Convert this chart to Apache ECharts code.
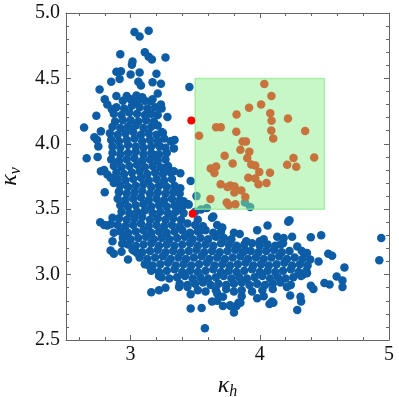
<!DOCTYPE html>
<html>
<head>
<meta charset="utf-8">
<script src="https://cdn.jsdelivr.net/npm/echarts@6/dist/echarts.min.js"></script>
<style>
html, body { margin: 0; padding: 0; background: #fff; }
#chart { width: 399px; height: 397px; }
</style>
</head>
<body>
<div id="chart"></div>
<script>
// axis ticks
var xMajorTicks = [3, 4, 5];
var xMinorTicks = [2.6, 2.8, 3.0, 3.2, 3.4, 3.6, 3.8, 4.0, 4.2, 4.4, 4.6, 4.8, 5.0];
var yTickLabels = ['2.5', '3.0', '3.5', '4.0', '4.5', '5.0'];

// selection box (kappa_h range, kappa_v range)
var boxKh = [3.5, 4.5];
var boxKv = [3.5, 4.5];

// all samples - dense core, read row by row
var blueCore = [
    [2.94,4.33],[3.00,4.34],[3.05,4.32],[3.11,4.33],[3.17,4.34],
    [2.89,4.28],[2.95,4.27],[3.01,4.29],[3.07,4.28],[3.13,4.27],[3.19,4.28],[3.24,4.27],
    [2.87,4.23],[2.93,4.22],[2.99,4.24],[3.05,4.23],[3.11,4.22],[3.16,4.23],[3.21,4.22],
    [2.88,4.17],[2.94,4.18],[3.00,4.18],[3.06,4.17],[3.12,4.18],[3.18,4.17],
    [2.86,4.13],[2.92,4.12],[2.98,4.13],[3.04,4.14],[3.10,4.12],[3.16,4.13],[3.21,4.14],
    [2.84,4.08],[2.90,4.07],[2.96,4.08],[3.02,4.09],[3.08,4.07],[3.14,4.08],[3.20,4.07],[3.24,4.09],
    [2.85,4.03],[2.91,4.02],[2.97,4.03],[3.03,4.04],[3.09,4.02],[3.15,4.03],[3.21,4.02],[3.26,4.04],
    [2.86,3.98],[2.92,3.97],[2.98,3.99],[3.04,3.98],[3.10,3.97],[3.16,3.98],[3.22,3.99],[3.27,3.97],
    [2.86,3.93],[2.92,3.92],[2.98,3.93],[3.04,3.94],[3.10,3.92],[3.16,3.93],[3.22,3.92],[3.28,3.93],
    [2.85,3.88],[2.91,3.87],[2.97,3.88],[3.03,3.89],[3.09,3.87],[3.15,3.88],[3.21,3.87],[3.27,3.88],
    [2.87,3.83],[2.93,3.82],[2.99,3.83],[3.05,3.84],[3.11,3.82],[3.17,3.83],[3.23,3.82],[3.29,3.83],
    [2.89,3.78],[2.95,3.77],[3.01,3.78],[3.07,3.79],[3.13,3.77],[3.19,3.78],[3.25,3.77],[3.31,3.78],
    [2.90,3.73],[2.96,3.72],[3.02,3.73],[3.08,3.74],[3.14,3.72],[3.20,3.73],[3.26,3.72],[3.32,3.73],
    [2.92,3.68],[2.98,3.67],[3.04,3.68],[3.10,3.69],[3.16,3.67],[3.22,3.68],[3.28,3.67],[3.34,3.68],
    [2.91,3.63],[2.97,3.62],[3.03,3.63],[3.09,3.64],[3.15,3.62],[3.21,3.63],[3.27,3.62],[3.33,3.63],[3.38,3.62],
    [2.90,3.58],[2.96,3.57],[3.02,3.58],[3.08,3.59],[3.14,3.57],[3.20,3.58],[3.26,3.57],[3.32,3.58],[3.38,3.57],
    [2.92,3.53],[2.98,3.52],[3.04,3.53],[3.10,3.54],[3.16,3.52],[3.22,3.53],[3.28,3.52],[3.34,3.53],[3.40,3.52],[3.44,3.54],
    [2.93,3.48],[2.99,3.47],[3.05,3.48],[3.11,3.49],[3.17,3.47],[3.23,3.48],[3.29,3.47],[3.35,3.48],[3.41,3.47],
    [2.91,3.43],[2.97,3.42],[3.03,3.43],[3.09,3.44],[3.15,3.42],[3.21,3.43],[3.27,3.42],[3.33,3.43],[3.39,3.42],[3.52,3.42],
    [2.90,3.38],[2.96,3.37],[3.02,3.38],[3.08,3.39],[3.14,3.37],[3.20,3.38],[3.26,3.37],[3.32,3.38],[3.38,3.37],[3.44,3.39],[3.50,3.38],[3.56,3.37],
    [2.92,3.33],[2.98,3.32],[3.04,3.33],[3.10,3.34],[3.16,3.32],[3.22,3.33],[3.28,3.32],[3.34,3.33],[3.40,3.34],[3.46,3.32],[3.52,3.33],[3.58,3.34],[3.64,3.32],[3.70,3.33],
    [2.94,3.28],[3.00,3.27],[3.06,3.28],[3.12,3.29],[3.18,3.27],[3.24,3.28],[3.30,3.27],[3.36,3.28],[3.42,3.29],[3.48,3.27],[3.54,3.28],[3.60,3.27],[3.66,3.29],[3.72,3.28],[3.78,3.27],
    [2.98,3.23],[3.04,3.22],[3.10,3.23],[3.16,3.24],[3.22,3.22],[3.28,3.23],[3.34,3.22],[3.40,3.23],[3.46,3.24],[3.52,3.22],[3.58,3.23],[3.64,3.22],[3.70,3.24],[3.76,3.23],[3.82,3.22],[3.88,3.23],[3.94,3.24],[4.00,3.22],[4.06,3.23],[4.12,3.22],[4.18,3.24],
    [3.03,3.18],[3.09,3.17],[3.15,3.18],[3.21,3.19],[3.27,3.17],[3.33,3.18],[3.39,3.17],[3.45,3.18],[3.51,3.19],[3.57,3.17],[3.63,3.18],[3.69,3.17],[3.75,3.18],[3.81,3.19],[3.87,3.17],[3.93,3.18],[3.99,3.17],[4.05,3.18],[4.11,3.19],[4.17,3.17],[4.23,3.18],
    [3.07,3.13],[3.13,3.12],[3.19,3.13],[3.25,3.14],[3.31,3.12],[3.37,3.13],[3.43,3.12],[3.49,3.13],[3.55,3.14],[3.61,3.12],[3.67,3.13],[3.73,3.12],[3.79,3.13],[3.85,3.14],[3.91,3.12],[3.97,3.13],[4.03,3.12],[4.09,3.13],[4.15,3.14],[4.21,3.12],[4.27,3.13],[4.33,3.12],
    [3.11,3.08],[3.17,3.07],[3.23,3.08],[3.29,3.09],[3.35,3.07],[3.41,3.08],[3.47,3.07],[3.53,3.08],[3.59,3.09],[3.65,3.07],[3.71,3.08],[3.77,3.07],[3.83,3.08],[3.89,3.09],[3.95,3.07],[4.01,3.08],[4.07,3.07],[4.13,3.08],[4.19,3.09],[4.25,3.07],[4.31,3.08],[4.37,3.07],
    [3.16,3.03],[3.22,3.02],[3.28,3.03],[3.34,3.04],[3.40,3.02],[3.46,3.03],[3.52,3.02],[3.58,3.03],[3.64,3.04],[3.70,3.02],[3.76,3.03],[3.82,3.02],[3.88,3.03],[3.94,3.04],[4.00,3.02],[4.06,3.03],[4.12,3.02],[4.18,3.03],[4.24,3.04],[4.30,3.02],[4.36,3.03],
    [3.24,2.98],[3.30,2.97],[3.36,2.98],[3.42,2.99],[3.48,2.97],[3.54,2.98],[3.60,2.97],[3.66,2.98],[3.72,2.99],[3.78,2.97],[3.84,2.98],[3.90,2.97],[3.96,2.98],[4.02,2.99],[4.08,2.97],[4.14,2.98],[4.20,2.97],[4.26,2.98],[4.32,2.99],
    [3.38,2.93],[3.44,2.92],[3.50,2.93],[3.56,2.94],[3.62,2.92],[3.68,2.93],[3.74,2.92],[3.80,2.93],[3.86,2.94],[3.92,2.92],[3.98,2.93],[4.04,2.92],[4.10,2.93],[4.16,2.94],[4.24,2.92],
    [3.52,2.88],[3.58,2.87],[3.66,2.88],[3.74,2.89],[3.80,2.87],[3.86,2.88],[3.94,2.87],[4.02,2.88],[4.10,2.89]
];

// all samples - sparse edges
var blueTop = [
    [3.03,4.855],[3.07,4.82],[3.14,4.865],[2.92,4.685],[3.11,4.70],[3.14,4.665],[3.165,4.645],[3.27,4.66],
    [3.015,4.63],[3.01,4.605],[2.89,4.55],[2.925,4.555],[3.07,4.545],[3.0,4.53],[3.2,4.535],[2.85,4.475],
    [2.915,4.495],[3.06,4.475],[3.08,4.445],[3.17,4.47],[3.235,4.46],[2.76,4.415],[3.455,4.435],[3.21,4.385],
    [2.89,4.365],[2.97,4.365],[2.80,4.34],[3.045,4.37],[3.09,4.355],[3.155,4.325],[3.235,4.30],[2.82,4.30],
    [2.855,4.265],[2.735,4.215],[3.285,4.205],[2.64,4.125]
];
var blueLeft = [
    [2.66,3.89],[2.745,3.90],[2.75,3.98],[2.72,4.05],[2.74,4.03],[2.77,4.095],[2.77,3.79],[2.80,3.63],
    [2.795,3.80],[2.82,3.765],[2.845,3.74],[2.87,3.70],[2.91,3.635],[2.765,3.40],[2.795,3.38],[2.86,3.435],
    [2.845,3.385],[2.82,3.375],[2.87,3.32],[2.86,3.255],[2.845,3.185],[2.87,3.16],[2.935,3.235],[2.93,3.175],
    [2.98,3.115],[3.015,3.19],[3.05,3.165]
];
var blueMid = [
    [3.25,4.085],[3.315,4.02],[3.335,3.965],[3.335,3.79],[3.385,3.775],[3.385,3.66],[3.31,4.02],[3.34,4.03],
    [3.225,3.98],[3.2,3.915],[3.26,3.815],[3.31,3.79],[3.465,3.715],[3.41,3.56],[3.385,3.51],[3.45,3.535],
    [3.50,3.48],[3.51,3.60],[3.59,3.51],[3.545,3.497],[3.885,3.552],[3.925,3.517],[3.64,3.445],[4.23,3.415]
];
var blueLow = [
    [3.14,3.07],[3.165,3.04],[3.22,2.99],[3.16,2.865],[3.22,2.88],[3.27,2.90],[3.375,2.905],[3.44,2.905],
    [3.465,2.85],[3.465,2.74],[3.55,2.745],[3.575,2.59],[3.63,2.795],[3.67,2.80],[3.67,2.855],[3.715,2.83],
    [3.715,2.76],[3.77,2.765],[3.80,2.71],[3.835,2.785],[3.86,2.835],[3.63,3.435],[3.67,3.38],[3.71,3.36],
    [3.80,3.32],[3.845,3.31],[3.895,3.255],[3.54,3.34],[3.72,3.28],[3.825,3.205],[3.89,3.185]
];
var blueRight = [
    [4.22,3.405],[4.06,3.375],[3.98,3.34],[4.395,3.285],[4.475,3.30],[4.94,3.28],[4.925,3.11],[4.655,3.055],
    [4.64,2.955],[4.64,2.905],[4.53,3.16],[4.56,3.145],[4.595,2.985],[4.50,2.935],[4.54,2.925],[4.39,3.115],
    [4.455,3.10],[4.29,2.73],[4.315,2.83],[4.32,2.795],[4.235,2.84],[4.105,2.785],[4.075,2.775],[3.98,2.82],
    [4.03,2.835],[3.85,2.785],[3.82,2.76],[3.775,2.76],[4.395,2.915],[4.415,2.89],[4.21,2.905],[4.335,3.0],
    [4.365,3.01],[4.095,2.795],[4.0,3.255],[4.03,3.27],[4.135,3.29],[4.185,3.28],[4.25,3.29],[4.29,3.215],
    [4.16,3.23],[4.325,3.18],[4.365,3.165]
];

// samples inside the box
var selected = [
    [4.035,4.458],[4.09,4.366],[4.01,4.30],[3.917,4.275],[3.82,4.224],[4.081,4.234],[4.091,4.176],[4.218,4.193],
    [3.662,4.127],[3.698,4.127],[3.818,4.092],[4.089,4.102],[3.53,4.061],[4.104,4.04],[4.351,4.097],[3.867,4.018],
    [3.893,4.018],[3.85,3.954],[3.919,3.939],[3.903,3.891],[3.728,3.908],[3.79,3.85],[3.934,3.842],[3.965,3.834],
    [4.261,3.891],[4.421,3.896],[4.212,3.84],[4.282,3.824],[3.62,3.811],[3.662,3.827],[3.649,3.776],[3.996,3.784],
    [4.079,3.779],[3.911,3.74],[3.965,3.735],[3.99,3.69],[4.052,3.70],[3.697,3.69],[3.75,3.669],[3.772,3.682],
    [3.805,3.674],[3.803,3.628],[3.857,3.643],[3.888,3.593],[3.618,3.578],[3.744,3.552],[3.759,3.532],[3.811,3.537]
];

// two marked samples
var marked = [[3.47, 4.178], [3.48, 3.466]];

var axisColor = '#666';
var serif = 'Liberation Serif';

function xAxisDef(pos, ticks, len, showLine, showLabel) {
    return {
        type: 'value', position: pos, min: 2.5, max: 5,
        splitLine: { show: false },
        axisLine: { show: showLine, onZero: false, lineStyle: { color: axisColor, width: 1 } },
        axisTick: { inside: true, length: len, customValues: ticks, lineStyle: { color: axisColor } },
        axisLabel: {
            show: showLabel, customValues: xMajorTicks, margin: 5,
            fontFamily: serif, fontSize: 20, color: '#111',
            formatter: function (v) { return String(v); }
        }
    };
}

function yAxisDef(pos, showLabel) {
    return {
        type: 'value', position: pos, min: 2.5, max: 5, interval: 0.5,
        splitLine: { show: false },
        axisLine: { show: true, onZero: false, lineStyle: { color: axisColor, width: 1 } },
        axisTick: { inside: true, length: 5, lineStyle: { color: axisColor } },
        minorTick: { show: true, splitNumber: 5, length: 3, lineStyle: { color: axisColor } },
        axisLabel: {
            show: showLabel, margin: 6, fontFamily: serif, fontSize: 20, color: '#111',
            formatter: function (v) { return yTickLabels[Math.round((v - 2.5) / 0.5)]; }
        }
    };
}

var xMain = xAxisDef('bottom', xMinorTicks, 3, true, true);
xMain.name = '{k|κ}{s|h}';
xMain.nameLocation = 'middle';
xMain.nameGap = 32;
xMain.nameTextStyle = {
    rich: {
        k: { fontFamily: serif, fontStyle: 'italic', fontSize: 24, color: '#111' },
        s: { fontFamily: serif, fontStyle: 'italic', fontSize: 16, color: '#111', padding: [12, 0, 0, 0] }
    }
};

var yMain = yAxisDef('left', true);
yMain.name = '{k|κ}{s|v}';
yMain.nameLocation = 'middle';
yMain.nameGap = 40;
yMain.nameTextStyle = {
    rich: {
        k: { fontFamily: serif, fontStyle: 'italic', fontSize: 24, color: '#111' },
        s: { fontFamily: serif, fontStyle: 'italic', fontSize: 16, color: '#111', padding: [12, 0, 0, 0] }
    }
};

var chart = echarts.init(document.getElementById('chart'));
chart.setOption({
    animation: false,
    backgroundColor: '#fff',
    grid: { left: 66, right: 10, top: 13, bottom: 57, containLabel: false, outerBoundsMode: 'none' },
    xAxis: [
        xMain,
        xAxisDef('bottom', xMajorTicks, 5, false, false),
        xAxisDef('top', xMinorTicks, 3, true, false),
        xAxisDef('top', xMajorTicks, 5, false, false)
    ],
    yAxis: [yMain, yAxisDef('right', false)],
    series: [
        {
            type: 'scatter', z: 2, silent: true,
            symbolSize: 8.5,
            itemStyle: { color: '#0C5DA5', opacity: 1 },
            data: blueCore.concat(blueTop, blueLeft, blueMid, blueLow, blueRight)
        },
        {
            type: 'custom', z: 3, silent: true,
            encode: { x: [0, 2], y: [1, 3] },
            renderItem: function (params, api) {
                var p0 = api.coord([api.value(0), api.value(3)]);
                var p1 = api.coord([api.value(2), api.value(1)]);
                return {
                    type: 'rect',
                    shape: { x: p0[0], y: p0[1], width: p1[0] - p0[0], height: p1[1] - p0[1] },
                    style: { fill: 'rgba(144,238,144,0.5)', stroke: 'rgba(144,238,144,0.75)', lineWidth: 1.5 }
                };
            },
            data: [[boxKh[0], boxKv[0], boxKh[1], boxKv[1]]]
        },
        {
            type: 'scatter', z: 4, silent: true,
            symbolSize: 8.5,
            itemStyle: { color: '#c8723c', opacity: 1 },
            data: selected
        },
        {
            type: 'scatter', z: 5, silent: true,
            symbolSize: 8,
            itemStyle: { color: '#ff0000', opacity: 1 },
            data: marked
        }
    ]
});
</script>
</body>
</html>
